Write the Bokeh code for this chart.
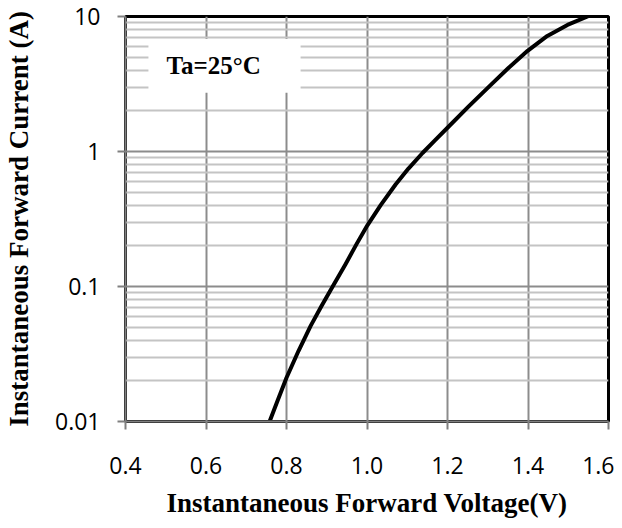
from bokeh.plotting import figure
from bokeh.models import FixedTicker, Label, PrintfTickFormatter, BoxAnnotation
from bokeh.embed import file_html
from bokeh.resources import INLINE

# Forward characteristic (Ta = 25 C)
voltage = [0.758, 0.778, 0.800, 0.830, 0.860, 0.887, 0.914, 0.947, 0.974,
           1.001, 1.034, 1.071, 1.103, 1.138, 1.170, 1.200, 1.252, 1.307,
           1.352, 1.399, 1.448, 1.498, 1.548]
current = [0.0100, 0.0143, 0.0211, 0.0334, 0.0511, 0.0718, 0.0992, 0.147,
           0.206, 0.284, 0.401, 0.570, 0.747, 0.975, 1.22, 1.50, 2.15, 3.10,
           4.17, 5.57, 7.18, 8.66, 10.0]

x_ticks = [0.4, 0.6, 0.8, 1.0, 1.2, 1.4, 1.6]
y_ticks = [0.01, 0.1, 1, 10]
y_tick_labels = ["0.01", "0.1", "1", "10"]
minor_mult = [2, 3, 4, 5, 6, 7, 8, 9]
y_minor = [m * d for d in y_ticks[:-1] for m in minor_mult]

note_text = "Ta=25°C"
note_x, note_y = 0.619, 4.31
note_box = dict(left=0.457, right=0.835, bottom=2.72, top=6.82)
x_title = "Instantaneous Forward Voltage(V)"
y_title = "Instantaneous Forward Current (A)"

p = figure(width=614, height=520, y_axis_type="log",
           x_range=(x_ticks[0], x_ticks[-1]), y_range=(y_ticks[0], y_ticks[-1]),
           output_backend="svg", toolbar_location=None,
           min_border_left=125, min_border_right=6, min_border_top=16,
           min_border_bottom=98)

p.background_fill_color = "white"
p.border_fill_color = "white"
p.outline_line_color = "black"
p.outline_line_width = 3

# axes
p.xaxis.ticker = FixedTicker(ticks=x_ticks)
p.xaxis.formatter = PrintfTickFormatter(format="%.1f")
p.yaxis.ticker = FixedTicker(ticks=y_ticks, minor_ticks=y_minor)
p.yaxis.major_label_overrides = {t: s for t, s in zip(y_ticks, y_tick_labels)}

for ax in (p.xaxis, p.yaxis):
    ax.axis_line_color = "#808080"
    ax.axis_line_width = 2
    ax.major_tick_line_color = "#808080"
    ax.major_tick_line_width = 2
    ax.major_tick_in = 0
    ax.major_tick_out = 8
    ax.minor_tick_in = 0
    ax.minor_tick_out = 0
    ax.major_label_text_font = "Open Sans"
    ax.major_label_text_font_size = "23px"
    ax.major_label_text_color = "black"
    ax.axis_label_text_font = "Liberation Serif"
    ax.axis_label_text_font_style = "bold"
    ax.axis_label_text_font_size = "27px"
    ax.axis_label_text_color = "black"

p.xaxis.axis_label = x_title
p.yaxis.axis_label = y_title
p.xaxis.major_label_standoff = 27
p.xaxis.axis_label_standoff = 11
p.yaxis.major_label_standoff = 17
p.yaxis.axis_label_standoff = 18

# grid
p.xgrid.grid_line_color = "#8c8c8c"
p.xgrid.grid_line_width = 2
p.ygrid.grid_line_color = "#8c8c8c"
p.ygrid.grid_line_width = 2
p.ygrid.minor_grid_line_color = "#c4c4c4"
p.ygrid.minor_grid_line_width = 2

# curve
p.line(voltage, current, line_color="black", line_width=4,
       line_join="round", line_cap="round")

# condition note on a white patch
p.add_layout(BoxAnnotation(fill_color="white", fill_alpha=1.0, line_alpha=0,
                           level="annotation", **note_box))
p.add_layout(Label(x=note_x, y=note_y, text=note_text, text_align="center",
                   text_baseline="middle", text_font="Liberation Serif",
                   text_font_style="bold", text_font_size="25px",
                   text_color="black"))

open("out.html", "w").write(file_html(p, INLINE))
